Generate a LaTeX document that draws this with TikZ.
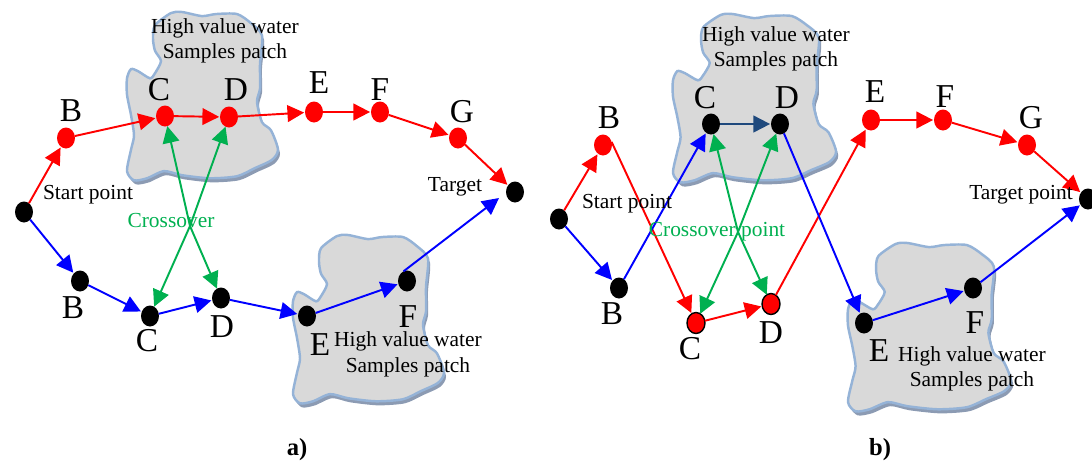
\documentclass[tikz,border=0pt]{standalone}
\usepackage{fontspec}
\setmainfont{Liberation Serif}
\usetikzlibrary{arrows.meta,shapes.geometric}
\definecolor{xgreen}{HTML}{00B050}
\definecolor{cdblue}{HTML}{1F497D}
\definecolor{rimblue}{HTML}{95B3D7}
\definecolor{patchgrey}{HTML}{D9D9D9}
\definecolor{patchshade}{HTML}{8C9BB3}
\tikzset{
  dot/.style={ellipse,fill=black,inner sep=0pt,outer sep=0pt,minimum width=.36cm,minimum height=.42cm},
  reddot/.style={dot,fill=red},
  rimdot/.style={dot,fill=red,draw=black,line width=.8pt},
  letter/.style={font=\fontsize{19}{19}\selectfont,inner sep=0pt},
  note/.style={font=\fontsize{12.2}{14.5}\selectfont,inner sep=0pt,align=center},
  path/.style={line width=1.1pt,-{Triangle[length=9.5pt,width=9.5pt]},shorten >=.5pt},
  redpath/.style={path,red},
  bluepath/.style={path,blue},
  xpath/.style={path,xgreen,shorten >=0pt},
}
% water patch outline, x y xscale
\newcommand{\patchline}{plot[smooth cycle,tension=.45] coordinates {
  (0,65) (4,56) (11,58) (23,65) (28,60) (34,48) (28,38) (26,26) (28,13) (44,1) (55,0) (75,4)
  (89,2) (110,2) (124,11) (135,23) (133,51) (133,75) (130,88) (135,108) (144,116) (151,135)
  (145,145) (128,153) (110,161) (83,163) (55,160) (37,156) (20,163) (7,165) (0,156) (4,135)
  (7,121) (4,101) (0,81)}}
\newcommand{\patch}[3]{
  \begin{scope}[shift={(#1,#2)},xscale=#3,yscale=1.02]
    \fill[patchshade] [shift={(2,4)}] \patchline;
    \draw[rimblue,fill=patchgrey,line width=1.4pt] \patchline;
  \end{scope}
}
\begin{document}
\begin{tikzpicture}[x=.02cm,y=-.02cm]
\useasboundingbox (0,0) rectangle (1092,464);

\patch{127}{12}{1}
\patch{293}{235}{1}
\patch{673}{14}{1.08}
\patch{848}{243}{1.08}

% left route
\foreach \nm/\x/\y in {aB/66/138,aC/165/116,aD/229/117,aE/314/112,aF/380/112,aG/458/138} {
  \node[reddot] (\nm) at (\x,\y) {};
}
\foreach \nm/\x/\y in {aS/24/212,aT/515/192,aJ/80/281,aK/150/316,aL/221/298,aM/307/316,aN/407/281} {
  \node[dot] (\nm) at (\x,\y) {};
}
\foreach \a/\b in {aS/aB,aB/aC,aC/aD,aD/aE,aE/aF,aF/aG,aG/aT} {
  \draw[redpath] (\a) -- (\b);
}
\foreach \a/\b in {aS/aJ,aJ/aK,aK/aL,aL/aM,aM/aN} {
  \draw[bluepath] (\a) -- (\b);
}
\coordinate (aU) at (499,198);
\draw[bluepath,shorten >=0pt] (aN.110) -- (aU);

\coordinate (aX) at (190,226);
\foreach \b in {aC,aD,aK,aL} {
  \draw[xpath] (aX) -- (\b);
}

% right route
\foreach \nm/\x/\y in {bB/603/145,bE/871/120,bF/943/120,bG/1027/145} {
  \node[reddot] (\nm) at (\x,\y) {};
}
\foreach \nm/\x/\y in {bK/696/323,bL/771/304} {
  \node[rimdot] (\nm) at (\x,\y) {};
}
\foreach \nm/\x/\y in {bS/559/219,bT/1088/199,bJ/619/288,bC/711/124,bD/780/124,bM/864/323,bN/973/288} {
  \node[dot] (\nm) at (\x,\y) {};
}
\foreach \a/\b in {bS/bB,bK/bL,bL/bE,bE/bF,bF/bG,bG/bT} {
  \draw[redpath] (\a) -- (\b);
}
\draw[redpath] (bB.20) -- (bK);
\foreach \a/\b in {bS/bJ,bJ/bC,bD/bM,bM/bN,bN/bT} {
  \draw[bluepath] (\a) -- (\b);
}
\draw[path,cdblue] (bC) -- (bD);

\coordinate (bX) at (738,232);
\foreach \b in {bC,bD,bK,bL} {
  \draw[xpath] (bX) -- (\b);
}

% letters
\foreach \nm/\t/\x/\y in {la1/B/71/111,la2/C/159/90,la3/D/236/90,la4/E/319/83,la5/F/380/90,la6/G/462/112,
  la7/B/73/308,la8/C/147/341,la9/D/222/327,la10/E/320/345,la11/F/408/317,
  lb1/B/609/118,lb2/C/705/98,lb3/D/787/98,lb4/E/875/92,lb5/F/945/97,lb6/G/1031/118,
  lb7/B/612/314,lb8/C/690/349,lb9/D/771/333,lb10/E/879/351,lb11/F/975/323} {
  \node[letter] (\nm) at (\x,\y) {\t};
}

% notes
\node[note] (patchA) at (225,41) {High value water\\Samples patch};
\node[note] (patchB) at (408,354.5) {High value water\\Samples patch};
\node[note] (patchC) at (776,49) {High value water\\Samples patch};
\node[note] (patchD) at (972,369) {High value water\\Samples patch};
\node[note] (startA) at (88,195) {Start point};
\node[note] (startB) at (627,204) {Start point};
\node[note] (goalA) at (455,187) {Target};
\node[note] (goalB) at (1021,195) {Target point};
\node[note,text=xgreen] (crossA) at (171,221) {Crossover};
\node[note,text=xgreen] (crossB) at (717,232) {Crossover point};
\node[note,font=\fontsize{14}{14}\selectfont\bfseries] (capA) at (297,450) {a)};
\node[note,font=\fontsize{14}{14}\selectfont\bfseries] (capB) at (880,450) {b)};
\end{tikzpicture}
\end{document}
